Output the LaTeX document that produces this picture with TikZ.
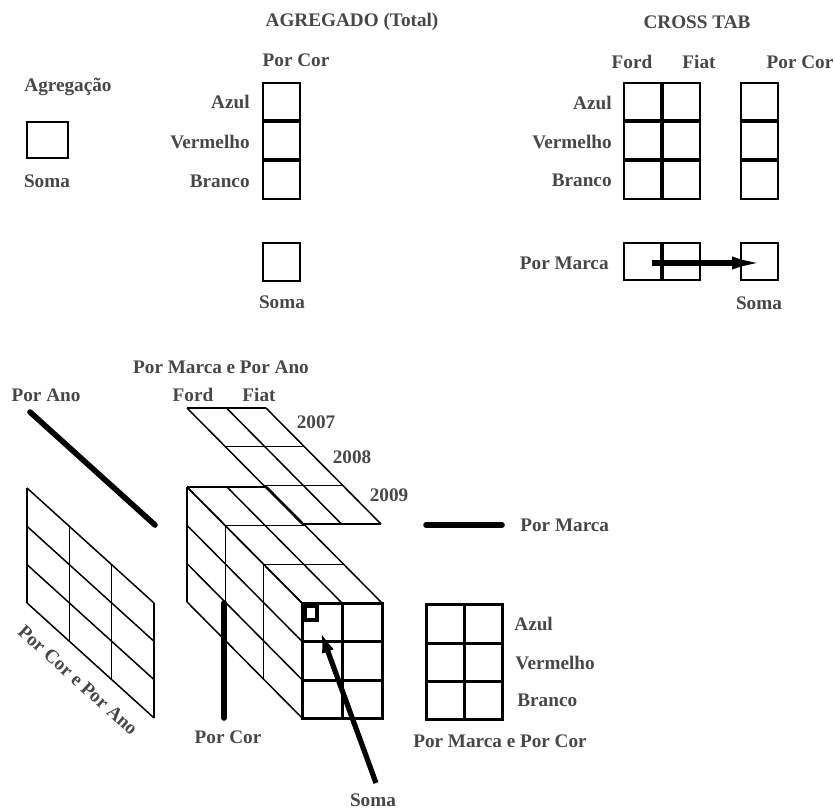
\documentclass[tikz,border=0pt]{standalone}
\usepackage{fontspec}
\setmainfont{Liberation Serif}
\usetikzlibrary{arrows.meta}

\tikzset{
  lbl/.style={font=\fontsize{9.6}{11}\selectfont\bfseries,text=black!72,inner sep=0pt},
  box/.style={line width=1.2pt},
  div/.style={line width=1.6pt},
  edge/.style={line width=0.75pt},
  front/.style={line width=1.5pt},
  bar/.style={line width=2.8pt,line cap=round},
}

\begin{document}
\begin{tikzpicture}[x=0.5pt,y=-0.5pt]
\useasboundingbox (0,0) rectangle (835,809);

% Agregacao
\node[lbl] (agreg) at (68,87) {Agregação};
\draw[box] (27,122) rectangle (68,158);
\node[lbl] (somaA) at (47,181) {Soma};

% AGREGADO (Total)
\node[lbl] (agregado) at (352,22) {AGREGADO (Total)};
\node[lbl] (porcorA) at (296,60) {Por Cor};
\draw[box] (263,83) rectangle (300,199);
\draw[div] (263,121) -- (300,121) (263,160) -- (300,160);
\node[lbl,anchor=east] (azulA) at (250,102) {Azul};
\node[lbl,anchor=east] (vermA) at (250,142) {Vermelho};
\node[lbl,anchor=east] (brancoA) at (250,181) {Branco};
\draw[box] (263,243) rectangle (300,281);
\node[lbl] (somaB) at (282,302) {Soma};

% CROSS TAB
\node[lbl] (crosstab) at (697,22) {CROSS TAB};
\node[lbl] (fordA) at (632,62) {Ford};
\node[lbl] (fiatA) at (699,62) {Fiat};
\node[lbl] (porcorB) at (800,62) {Por Cor};
\draw[box] (624,83) rectangle (700,199);
\draw[div] (662,83) -- (662,199) (624,121) -- (700,121) (624,160) -- (700,160);
\draw[box] (741,83) rectangle (778,199);
\draw[div] (741,121) -- (778,121) (741,160) -- (778,160);
\node[lbl,anchor=east] (azulB) at (612,103) {Azul};
\node[lbl,anchor=east] (vermB) at (612,142) {Vermelho};
\node[lbl,anchor=east] (brancoB) at (612,180) {Branco};
\draw[box] (624,243) rectangle (700,280);
\draw[div] (662,243) -- (662,280);
\draw[box] (741,243) rectangle (778,280);
\node[lbl,anchor=east] (pormarcaA) at (609,263) {Por Marca};
\node[lbl] (somaC) at (759,303) {Soma};
\coordinate (pmFrom) at (652,263);
\coordinate (pmTo) at (764,263);
\draw[line width=2.6pt,-{Latex[length=16pt,width=6.5pt]}] (pmFrom) -- (pmTo);

% cubo
\node[lbl] (marcaano) at (221,367) {Por Marca e Por Ano};
\node[lbl] (porano) at (46,395) {Por Ano};
\node[lbl] (fordB) at (193,395) {Ford};
\node[lbl] (fiatB) at (259,395) {Fiat};
\node[lbl] (y2007) at (316,422) {2007};
\node[lbl] (y2008) at (352,457) {2008};
\node[lbl] (y2009) at (389,495) {2009};

% plano Por Cor e Por Ano
\foreach \i in {0,...,3}
  \draw[edge] ({27+42.3*\i},{488+38.3*\i}) -- ++(0,115);
\foreach \j in {0,...,3}
  \draw[edge] (27,{488+38.3*\j}) -- ++(127,115);
\node[lbl,rotate=-42] (corano) at (78,680) {Por Cor e Por Ano};
\draw[bar] (30,412) -- (155,525);

% plano Por Marca e Por Ano
\foreach \k in {0,...,3}
  \draw[edge] ({187+38.3*\k},{408+38.7*\k}) -- ++(79,0);
\foreach \i in {0,1,2}
  \draw[edge] ({187+39.5*\i},408) -- ++(115,116);

% faces do cubo
\foreach \k in {0,...,3}
  \draw[edge] ({187+38.3*\k},{487+38.7*\k}) -- ++(80,0);
\foreach \i in {0,1,2}
  \draw[edge] ({187+40*\i},487) -- ++(115,116);
\foreach \k in {0,...,3}
  \draw[edge] ({187+38.3*\k},{487+38.7*\k}) -- ++(0,115);
\foreach \j in {0,...,3}
  \draw[edge] (187,{487+38.3*\j}) -- ++(115,116);
\draw[front] (302,603) rectangle (382,718);
\draw[front] (342,603) -- (342,718) (302,641) -- (382,641) (302,680) -- (382,680);
\draw[line width=1.6pt] (305,606) rectangle (317,620);

\draw[bar] (224,603) -- (224,718);
\node[lbl] (porcorC) at (228,737) {Por Cor};

\coordinate (somaTail) at (376,783);
\coordinate (somaTip) at (319,627);
\draw[line width=2.6pt,-{Latex[length=13pt,width=6pt]}] (somaTail) -- (somaTip);
\node[lbl] (somaD) at (373,800) {Soma};

% Por Marca e Por Cor
\draw[bar] (426,525) -- (502,525);
\node[lbl,anchor=west] (pormarcaB) at (520,525) {Por Marca};
\draw[front] (426,604) rectangle (502,719);
\draw[front] (464,604) -- (464,719) (426,643) -- (502,643) (426,681) -- (502,681);
\node[lbl,anchor=west] (azulC) at (514,624) {Azul};
\node[lbl,anchor=west] (vermC) at (515,663) {Vermelho};
\node[lbl,anchor=west] (brancoC) at (517,700) {Branco};
\node[lbl] (marcacor) at (500,741) {Por Marca e Por Cor};
\end{tikzpicture}
\end{document}
